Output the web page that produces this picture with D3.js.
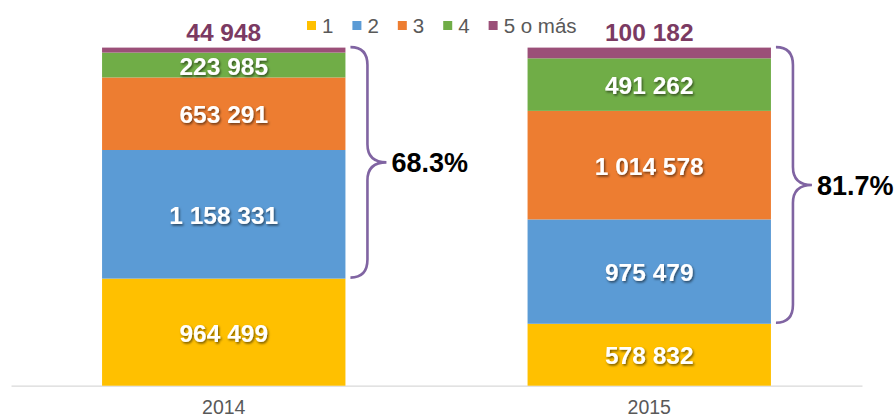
<!DOCTYPE html>
<html>
<head>
<meta charset="utf-8">
<script src="https://cdn.jsdelivr.net/npm/d3@7/dist/d3.min.js"></script>
<style>
  html, body { margin: 0; padding: 0; background: #fff; }
  svg { display: block; font-family: "Liberation Sans", Arial, sans-serif; }
</style>
</head>
<body>
<svg id="chart" width="896" height="417"></svg>
<script>
// Households by number of members, per year
const years = ["2014", "2015"];
const groups = ["1", "2", "3", "4", "5 o más"];
const values2014 = [964499, 1158331, 653291, 223985, 44948];
const values2015 = [578832, 975479, 1014578, 491262, 100182];
const colors = ["#FFC000", "#5B9BD5", "#ED7D31", "#70AD47", "#9B4F78"];
const shareLabels = ["68.3%", "81.7%"];

const svg = d3.select("#chart");

const rows = years.map((y, i) => {
  const vals = i === 0 ? values2014 : values2015;
  const r = { year: y };
  groups.forEach((g, j) => r[g] = vals[j]);
  return r;
});

const stack = d3.stack().keys(groups).offset(d3.stackOffsetExpand);
const series = stack(rows);

const x = d3.scaleBand().domain(years).range([11, 862]).paddingInner(0.428).paddingOuter(0.214);
const y = d3.scaleLinear().domain([0, 1]).range([385.7, 47.6]);

const defs = svg.append("defs");
const f = defs.append("filter").attr("id", "shadow").attr("x", "-20%").attr("y", "-40%").attr("width", "140%").attr("height", "180%");
f.append("feDropShadow").attr("dx", 1.2).attr("dy", 1.6).attr("stdDeviation", 0.9)
  .attr("flood-color", "#000").attr("flood-opacity", 0.55);

// axis baseline
const xAxis = svg.append("g").attr("transform", `translate(0,${y(0)})`)
  .call(d3.axisBottom(x).tickSize(0).tickPadding(14));
xAxis.select(".domain").attr("stroke", "#d9d9d9").attr("stroke-width", 1.2);
xAxis.selectAll("text").attr("font-size", 19.5).attr("fill", "#595959")
  .attr("font-family", "Liberation Sans, Arial, sans-serif");

// stacked segments
const layer = svg.append("g").selectAll("g").data(series).join("g")
  .attr("fill", (d, i) => colors[i]);
layer.selectAll("rect").data(d => d.map(p => ({ p, year: p.data.year }))).join("rect")
  .attr("x", d => x(d.year))
  .attr("width", x.bandwidth())
  .attr("y", d => y(d.p[1]))
  .attr("height", d => y(d.p[0]) - y(d.p[1]));

// value labels inside segments (first four groups), outside on top for the last
const fmt = v => d3.format(",")(v).replace(/,/g, " ");
series.forEach((s, i) => {
  s.forEach(p => {
    const v = p.data[s.key];
    const cx = x(p.data.year) + x.bandwidth() / 2;
    if (i < 4) {
      svg.append("text")
        .attr("x", cx).attr("y", (y(p[0]) + y(p[1])) / 2 + 9.5)
        .attr("text-anchor", "middle")
        .attr("font-size", 24.5).attr("font-weight", "bold")
        .attr("fill", "#fff").attr("filter", "url(#shadow)")
        .text(fmt(v));
    } else {
      svg.append("text")
        .attr("x", cx).attr("y", y(p[1]) - 6.5)
        .attr("text-anchor", "middle")
        .attr("font-size", 24.5).attr("font-weight", "bold")
        .attr("fill", "#7B3A62")
        .text(fmt(v));
    }
  });
});

// braces covering households with two or more members
const first = series[0];
years.forEach((yr, i) => {
  const yTop = y(1) - 0.5;
  const yBot = y(first[i][1]) - 1;
  const x0 = x(yr) + x.bandwidth() + 5;
  const x1 = x0 + 17;
  const x2 = x0 + 36;
  const yMid = (yTop + yBot) / 2;
  const r = 18;
  const path = d3.path();
  path.moveTo(x0, yTop);
  path.quadraticCurveTo(x1, yTop, x1, yTop + r);
  path.lineTo(x1, yMid - r);
  path.quadraticCurveTo(x1, yMid, x2, yMid);
  path.quadraticCurveTo(x1, yMid, x1, yMid + r);
  path.lineTo(x1, yBot - r);
  path.quadraticCurveTo(x1, yBot, x0, yBot);
  svg.append("path").attr("d", path.toString())
    .attr("fill", "none").attr("stroke", "#8064A2").attr("stroke-width", 2.6);
  svg.append("text")
    .attr("x", x2 + 5).attr("y", yMid + 10)
    .attr("font-size", 27).attr("font-weight", "bold").attr("fill", "#000")
    .text(shareLabels[i]);
});

// legend
const legend = svg.append("g");
let lx = 307;
groups.forEach((g, i) => {
  legend.append("rect").attr("x", lx).attr("y", 21).attr("width", 9).attr("height", 9).attr("fill", colors[i]);
  const t = legend.append("text").attr("x", lx + 15).attr("y", 32.7)
    .attr("font-size", 20.5).attr("fill", "#595959").text(g);
  lx += 15 + t.node().getComputedTextLength() + 19;
});
</script>
</body>
</html>
